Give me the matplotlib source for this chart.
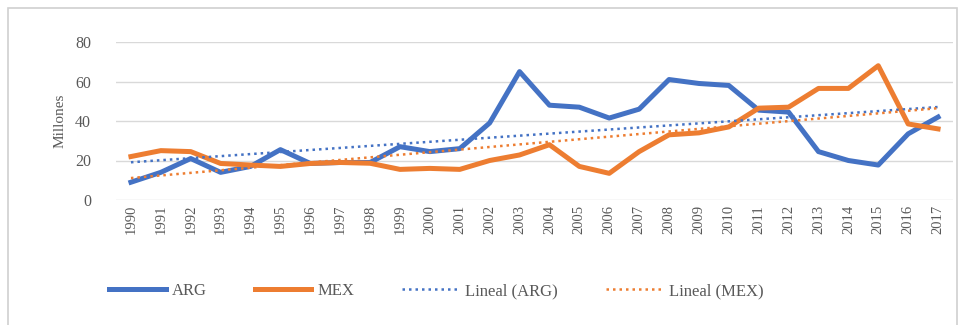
import numpy as np
import matplotlib.pyplot as plt
from matplotlib.patches import Rectangle

years = list(range(1990, 2018))
arg = [9, 14, 21, 14, 17, 25.5, 18.5, 19, 19, 27, 24.5, 26, 39, 65,
       48, 47, 41.5, 46, 61, 59, 58, 45.5, 44.5, 24.5, 20, 17.7, 33.5, 42]
mex = [22, 25, 24.5, 18.5, 17.7, 17, 18.5, 19, 18.6, 15.5, 16, 15.5, 20, 22.8,
       28, 17, 13.5, 24.5, 33, 34, 37, 46.5, 47, 56.5, 56.5, 68, 38.5, 36]

BLUE = "#4472C4"
ORANGE = "#ED7D31"
SERIF = ["Liberation Serif", "DejaVu Serif"]

fig = plt.figure(figsize=(9.72, 3.25), dpi=100)
fig.patches.append(Rectangle((8 / 972, -0.05), (957 - 8) / 972, 1 - 8 / 325 + 0.05,
                             transform=fig.transFigure, fill=False,
                             edgecolor="#D0D0D0", linewidth=1.2))

ax = fig.add_axes([116 / 972, 1 - 200 / 325, (953 - 116) / 972, (200 - 42) / 325])
x = np.arange(len(years))

ax.plot(x, arg, color=BLUE, linewidth=3.6, solid_joinstyle="round", label="ARG", zorder=3)
ax.plot(x, mex, color=ORANGE, linewidth=3.6, solid_joinstyle="round", label="MEX", zorder=3)

# linear trend lines
pa = np.polyfit(x, arg, 1)
pm = np.polyfit(x, mex, 1)
ax.plot(x, np.polyval(pa, x), color=BLUE, linewidth=1.8, linestyle=(0, (1, 1.6)),
        label="Lineal (ARG)", zorder=4)
ax.plot(x, np.polyval(pm, x), color=ORANGE, linewidth=1.8, linestyle=(0, (1, 1.6)),
        label="Lineal (MEX)", zorder=4)

ax.set_xlim(-0.5, len(years) - 0.5)
ax.set_ylim(0, 80)
ax.set_yticks([0, 20, 40, 60, 80])
ax.grid(axis="y", color="#D9D9D9", linewidth=1)
ax.set_axisbelow(True)
for s in ax.spines.values():
    s.set_visible(False)
ax.tick_params(length=0)
ax.tick_params(axis="y", pad=18)
ax.set_xticks(x)
ax.set_xticklabels([str(y) for y in years], rotation=90, fontsize=10.5,
                   family=SERIF, color="#595959")
for t in ax.get_yticklabels():
    t.set_family(SERIF)
    t.set_fontsize(11.5)
    t.set_color("#595959")
ax.set_ylabel("Millones", family=SERIF, fontsize=11, color="#595959", labelpad=6)

leg = fig.legend(loc="center", bbox_to_anchor=(436 / 972, 1 - 291 / 325), ncol=4,
                 frameon=False, prop={"family": SERIF, "size": 12},
                 handlelength=3.4, columnspacing=2.9, handletextpad=0.35)
for t in leg.get_texts():
    t.set_color("#595959")

fig.savefig("out.png", dpi=100, facecolor="white")
